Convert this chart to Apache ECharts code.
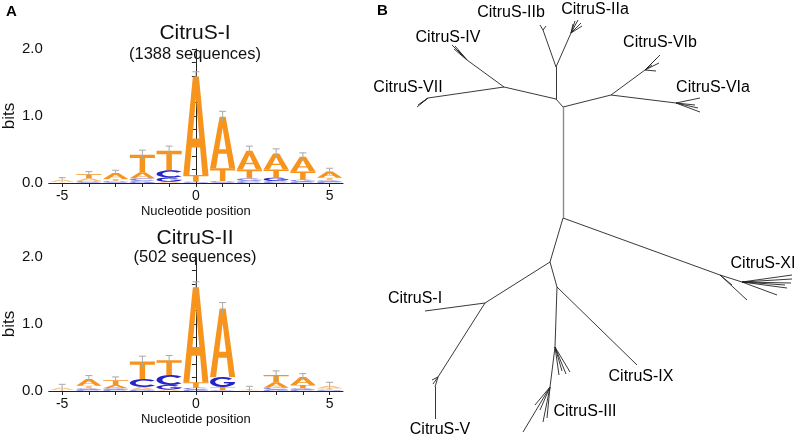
<!DOCTYPE html>
<html><head><meta charset="utf-8">
<script src="https://cdn.jsdelivr.net/npm/echarts@6/dist/echarts.min.js"></script>
<style>html,body{margin:0;padding:0;background:#fff}#c{width:800px;height:437px}</style>
</head><body><div id="c"></div>
<script>
// ---- Sequence logo data (bits), positions -5..5 ----
const positions = [-5,-4,-3,-2,-1,0,1,2,3,4,5];
const xTickLabels = [-5, 0, 5];
const yTickLabels = [0, 1, 2];

const logo1A = [0.03,0.04,0.09,0.09,0.02,1.47,0.77,0.28,0.24,0.22,0.09];
const logo1C = [0.005,0.01,0.01,0.04,0.11,0.01,0.01,0.03,0.03,0.02,0.02];
const logo1G = [0.005,0.02,0.02,0.03,0.06,0.01,0.02,0.04,0.05,0.03,0.02];
const logo1T = [0.01,0.06,0.03,0.26,0.29,0.10,0.19,0.13,0.12,0.12,0.04];
const logo1Err = [0.03,0.04,0.04,0.07,0.07,0.07,0.08,0.07,0.07,0.06,0.05];

const logo2A = [0.03,0.10,0.05,0.04,0.02,1.42,1.02,0.01,0.08,0.12,0.04];
const logo2C = [0.005,0.02,0.02,0.12,0.15,0.03,0.01,0.005,0.03,0.02,0.01];
const logo2G = [0.005,0.02,0.02,0.02,0.07,0.02,0.15,0.005,0.02,0.02,0.01];
const logo2T = [0.01,0.04,0.07,0.26,0.22,0.08,0.05,0.01,0.11,0.05,0.02];
const logo2Err = [0.05,0.05,0.05,0.08,0.07,0.08,0.09,0.04,0.06,0.05,0.05];

const logoTitles = ['CitruS-I', 'CitruS-II'];
const logoSubtitles = ['(1388 sequences)', '(502 sequences)'];

// ---- Unrooted tree (layout units) ----
const treeX = [193,193,186,241,186,173,170,176,201,208,211,205,212,203,134,97,82,85,88,84,58,47,50,48,275,290,287,289,286,282,306,330,330,328,325,180,350,377,362,372,422,422,421,417,407,415,115,55,68,65,65,62,63,187,267,185,200,196,192,189,180,153,173,170,177,165];
const treeY = [107,218,99,95,67,30,25,26,33,20,23,21,26,24,87,60,45,46,50,49,98,107,104,105,70,55,58,63,71,65,103,98,112,108,105,262,275,300,285,282,275,279,283,288,295,285,303,311,377,387,419,380,384,287,365,347,372,374,371,375,387,432,422,410,418,405];
const treeParent = [-1,0,0,0,2,4,5,5,4,8,8,8,8,8,2,14,15,15,15,15,14,20,20,20,3,24,24,24,24,24,3,30,30,30,30,1,1,36,36,36,39,39,39,39,39,39,35,46,46,48,49,48,48,35,53,53,55,55,55,55,55,60,60,60,60,60];
const cladeNames = ['CitruS-IIb','CitruS-IIa','CitruS-IV','CitruS-VIb','CitruS-VII','CitruS-VIa','CitruS-XI','CitruS-I','CitruS-IX','CitruS-III','CitruS-V'];
const cladeLabelX = [141,225,78,290,38,343,393,45,271,215,70];
const cladeLabelY = [13,10,38,43,88,88,264,299,377,412,430];

// ---- build ----
const ORANGE = '#F7941E', BLUE = '#2424C8';
const letterColor = [ORANGE, BLUE, BLUE, ORANGE];
const letterPaths = [
  'M0,100 L38,0 L62,0 L100,100 L76,100 L66.7,72 L33.3,72 L24,100 Z M36.3,63 L63.7,63 L50,22 Z',
  'M88.3,17.9 A50,50 0 1,0 88.3,82.1 L73,69.3 A30,30 0 1,1 73,30.7 Z',
  'M88.3,17.9 A50,50 0 1,0 100,50 L55,50 L55,64 L76,65 A30,30 0 1,1 73,30.7 Z',
  'M0,0 L100,0 L100,18 L61,18 L61,100 L39,100 L39,18 L0,18 Z'
];
function buildStacks(A,C,G,T){
  const out=[];
  positions.forEach((p,i)=>{
    const items=[[0,A[i]],[1,C[i]],[2,G[i]],[3,T[i]]].sort((a,b)=>a[1]-b[1]);
    let y=0;
    items.forEach(([li,h])=>{ out.push([p,y,y+h,li]); y+=h; });
  });
  return out;
}
function buildErr(A,C,G,T,E){
  return positions.map((p,i)=>[p, A[i]+C[i]+G[i]+T[i], E[i]]);
}
function renderLetter(params, api){
  const p=api.value(0), y0=api.value(1), y1=api.value(2), li=api.value(3);
  const tl=api.coord([p-0.47,y1]), br=api.coord([p+0.47,y0]);
  const h=br[1]-tl[1];
  if(h<0.4) return null;
  return {type:'path', shape:{pathData:letterPaths[li], x:tl[0], y:tl[1], width:br[0]-tl[0], height:h, layout:'cover'},
    style:{fill:letterColor[li], opacity: h<3?0.6:1}};
}
function renderErr(params, api){
  const p=api.value(0), top=api.value(1), e=api.value(2);
  const a=api.coord([p,top-e]), b=api.coord([p,top+e]);
  const c1=api.coord([p-0.13,top+e]), c2=api.coord([p+0.13,top+e]);
  const st={stroke:'#A8A8A8', lineWidth:1};
  return {type:'group', children:[
    {type:'line', shape:{x1:a[0],y1:a[1],x2:b[0],y2:b[1]}, style:st},
    {type:'line', shape:{x1:c1[0],y1:c1[1],x2:c2[0],y2:c2[1]}, style:st}
  ]};
}
const FONT = '"Liberation Sans", Arial, Helvetica, sans-serif';
function logoX(idx){
  return {gridIndex:idx, type:'value', min:-5.5, max:5.5,
    axisLine:{show:true,onZero:false,lineStyle:{color:'#222',width:1}},
    axisTick:{show:true, customValues:positions, length:4, inside:false, lineStyle:{color:'#222'}},
    axisLabel:{customValues:xTickLabels, fontSize:14, color:'#111', fontFamily:FONT, margin:6,
      formatter:v=>String(v)},
    splitLine:{show:false},
    name:'Nucleotide position', nameLocation:'middle', nameGap:22,
    nameTextStyle:{fontSize:13, color:'#111', fontFamily:FONT}};
}
function logoY(idx){
  return {gridIndex:idx, type:'value', min:0, max:2, interval:0.2,
    axisLine:{show:true,lineStyle:{color:'#222',width:1}},
    axisTick:{show:true,length:4,lineStyle:{color:'#222'}},
    axisLabel:{fontSize:15, color:'#111', fontFamily:FONT, margin:6,
      formatter:v=>{ const r=Math.round(v*10)/10; return yTickLabels.indexOf(r)>=0 ? r.toFixed(1) : ''; }},
    splitLine:{show:false},
    name:'bits', nameLocation:'middle', nameGap:26, nameRotate:90,
    nameTextStyle:{fontSize:17, color:'#111', fontFamily:FONT}};
}
const treeEdges=[], trunkEdges=[];
treeParent.forEach((p,i)=>{
  if(p<0) return;
  const e={coords:[[treeX[p],treeY[p]],[treeX[i],treeY[i]]]};
  if(i===1) trunkEdges.push(e); else treeEdges.push(e);
});
const labelData = cladeNames.map((n,i)=>[cladeLabelX[i], cladeLabelY[i], n]);

const chart = echarts.init(document.getElementById('c'), null, {renderer:'canvas'});
chart.setOption({
  animation:false,
  backgroundColor:'#fff',
  grid:[
    {left:47, top:49, width:296, height:134},
    {left:47, top:257, width:296, height:134},
    {left:370, top:0, width:430, height:437}
  ],
  xAxis:[logoX(0), logoX(1), {gridIndex:2, type:'value', min:0, max:430, show:false}],
  yAxis:[logoY(0), logoY(1), {gridIndex:2, type:'value', min:0, max:437, inverse:true, show:false}],
  graphic:[
    {type:'text', x:6, y:4, style:{text:'A', font:'bold 15px '+FONT, fill:'#000'}},
    {type:'text', x:377, y:3, style:{text:'B', font:'bold 15px '+FONT, fill:'#000'}},
    {type:'text', x:195, y:33, style:{text:logoTitles[0], font:'21px '+FONT, fill:'#111', textAlign:'center', textVerticalAlign:'middle'}},
    {type:'text', x:195, y:54, style:{text:logoSubtitles[0], font:'16.5px '+FONT, fill:'#111', textAlign:'center', textVerticalAlign:'middle'}},
    {type:'text', x:195, y:238, style:{text:logoTitles[1], font:'21px '+FONT, fill:'#111', textAlign:'center', textVerticalAlign:'middle'}},
    {type:'text', x:195, y:257, style:{text:logoSubtitles[1], font:'16.5px '+FONT, fill:'#111', textAlign:'center', textVerticalAlign:'middle'}}
  ],
  series:[
    {type:'custom', xAxisIndex:0, yAxisIndex:0, renderItem:renderLetter, encode:{x:0,y:[1,2]}, data:buildStacks(logo1A,logo1C,logo1G,logo1T), silent:true},
    {type:'custom', xAxisIndex:0, yAxisIndex:0, renderItem:renderErr, encode:{x:0,y:1}, data:buildErr(logo1A,logo1C,logo1G,logo1T,logo1Err), silent:true},
    {type:'custom', xAxisIndex:1, yAxisIndex:1, renderItem:renderLetter, encode:{x:0,y:[1,2]}, data:buildStacks(logo2A,logo2C,logo2G,logo2T), silent:true},
    {type:'custom', xAxisIndex:1, yAxisIndex:1, renderItem:renderErr, encode:{x:0,y:1}, data:buildErr(logo2A,logo2C,logo2G,logo2T,logo2Err), silent:true},
    {type:'lines', coordinateSystem:'cartesian2d', xAxisIndex:2, yAxisIndex:2, data:treeEdges, lineStyle:{color:'#222', width:0.9, opacity:1}, silent:true},
    {type:'lines', coordinateSystem:'cartesian2d', xAxisIndex:2, yAxisIndex:2, data:trunkEdges, lineStyle:{color:'#8a8a8a', width:1.4, opacity:1}, silent:true},
    {type:'scatter', xAxisIndex:2, yAxisIndex:2, symbolSize:0, data:labelData, silent:true,
      itemStyle:{opacity:1},
      label:{show:true, position:'inside', formatter:p=>p.value[2], fontSize:16, color:'#000', opacity:1, fontFamily:FONT}}
  ]
});
</script></body></html>
